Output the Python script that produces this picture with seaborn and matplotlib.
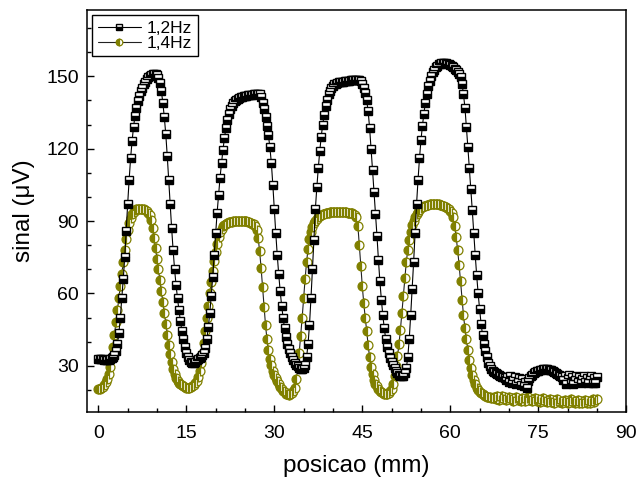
import numpy as np
import pandas as pd
import seaborn as sns
import matplotlib.pyplot as plt

# sampling step of the scan (mm)
passo = 0.25

# 1,2 Hz signal (uV), one value every 0.25 mm from 0 to 85 mm
sinal_12 = [
    33.0, 33.0, 32.8, 32.7, 32.6, 32.5, 32.5, 32.6, 32.8, 33.2, 33.8, 34.6, 36.0, 39.0, 43.5, 50.0, 58.0, 66.0, 75.0, 86.0,
    97.0, 107.0, 116.0, 123.0, 129.0, 133.5, 137.0, 139.8, 142.0, 143.8, 145.3, 146.6, 147.8, 148.8, 149.6, 150.2, 150.6, 150.8, 150.9, 150.8,
    150.4, 149.4, 147.2, 143.8, 139.0, 133.0, 126.0, 117.0, 107.0, 97.0, 87.0, 78.0, 70.0, 63.5, 58.0, 53.0, 48.5, 44.5, 41.0, 38.0,
    35.5, 33.6, 32.4, 31.7, 31.4, 31.4, 31.8, 32.3, 32.8, 33.2, 33.7, 34.4, 35.5, 37.5, 41.0, 46.0, 52.0, 59.0, 67.0, 76.0,
    85.0, 93.5, 101.0, 108.0, 114.0, 119.5, 124.5, 128.5, 131.8, 134.3, 136.3, 137.7, 138.8, 139.6, 140.2, 140.6, 141.0, 141.3, 141.5, 141.7,
    141.9, 142.0, 142.1, 142.2, 142.3, 142.4, 142.5, 142.6, 142.7, 142.8, 142.7, 141.5, 139.0, 136.3, 133.0, 129.5, 125.5, 120.5, 114.0, 105.0,
    95.0, 85.0, 76.0, 68.0, 61.0, 55.0, 50.0, 45.5, 42.0, 39.2, 37.0, 35.2, 33.8, 32.5, 31.4, 30.5, 29.8, 29.2, 28.8, 28.8,
    29.3, 30.5, 33.5, 39.0, 47.0, 58.0, 70.0, 82.0, 95.0, 104.0, 112.0, 119.0, 125.0, 130.0, 134.0, 137.5, 140.3, 142.5, 144.0, 145.2,
    146.0, 146.6, 147.0, 147.3, 147.5, 147.6, 147.7, 147.8, 147.9, 148.0, 148.1, 148.2, 148.3, 148.4, 148.4, 148.5, 148.5, 148.5, 148.4, 148.0,
    147.0, 145.3, 143.0, 140.0, 135.5, 128.5, 120.0, 111.0, 102.0, 93.0, 84.0, 74.0, 65.0, 57.5, 51.0, 45.5, 41.0, 37.8, 35.3, 33.4,
    31.8, 30.4, 29.0, 27.8, 26.9, 26.2, 25.8, 25.7, 26.0, 27.0, 29.0, 33.5, 41.0, 51.0, 62.0, 73.0, 85.0, 97.0, 107.0, 116.0,
    123.5, 129.5, 134.5, 139.0, 142.8, 145.8, 148.2, 150.2, 151.7, 152.8, 153.7, 154.4, 154.9, 155.2, 155.4, 155.5, 155.5, 155.4, 155.2, 155.0,
    154.6, 154.2, 153.8, 153.2, 152.6, 151.8, 150.8, 149.6, 147.0, 142.5, 137.0, 129.0, 120.5, 112.0, 103.5, 94.5, 85.0, 76.0, 67.5, 60.0,
    53.5, 47.5, 42.8, 39.0, 36.0, 33.5, 31.3, 29.8, 28.8, 28.0, 27.5, 27.0, 26.7, 26.4, 26.0, 25.6, 25.3, 25.1, 24.2, 25.6,
    23.5, 25.8, 22.8, 24.0, 25.5, 22.6, 23.4, 24.8, 22.2, 24.6, 21.8, 23.2, 21.0, 23.8, 25.0, 25.8, 26.4, 26.9, 27.3, 27.7,
    28.0, 28.3, 28.5, 28.6, 28.7, 28.7, 28.6, 28.5, 28.3, 28.1, 27.8, 27.5, 27.2, 26.8, 26.4, 25.9, 25.4, 24.0, 26.0, 22.4,
    24.8, 26.2, 23.0, 25.4, 22.6, 24.2, 26.0, 23.4, 25.6, 22.8, 24.6, 26.0, 23.2, 25.0, 22.8, 24.4, 26.0, 23.0, 24.8, 22.8,
    25.6,
]

# 1,4 Hz signal (uV), same positions
sinal_14 = [
    20.3, 20.4, 20.7, 21.2, 22.0, 23.2, 24.5, 26.5, 29.5, 33.5, 38.0, 43.0, 48.0, 53.0, 58.0, 63.0, 68.0, 73.0, 78.0, 82.5,
    86.2, 89.2, 91.4, 92.9, 93.9, 94.5, 94.9, 95.1, 95.2, 95.2, 95.1, 94.9, 94.6, 94.1, 93.4, 92.4, 90.5, 87.0, 83.0, 78.8,
    74.4, 70.0, 65.5, 61.0, 56.5, 52.0, 47.5, 43.0, 38.8, 35.0, 31.5, 28.6, 26.5, 25.0, 23.9, 23.0, 22.4, 21.9, 21.5, 21.2,
    21.0, 20.9, 20.9, 21.1, 21.5, 22.0, 22.8, 23.8, 25.5, 27.8, 31.0, 35.0, 39.5, 44.5, 49.8, 55.0, 60.0, 64.8, 69.3, 73.5,
    77.3, 80.6, 83.3, 85.3, 86.8, 87.8, 88.5, 89.0, 89.3, 89.5, 89.7, 89.8, 89.9, 90.0, 90.1, 90.1, 90.2, 90.2, 90.2, 90.2,
    90.1, 90.0, 89.8, 89.6, 89.3, 89.0, 88.6, 88.0, 86.5, 83.0, 77.5, 70.5, 62.5, 54.5, 47.0, 41.0, 36.5, 33.0, 30.2, 28.0,
    26.3, 25.0, 23.8, 22.6, 21.4, 20.4, 19.6, 19.0, 18.5, 18.2, 18.1, 18.2, 18.6, 19.4, 21.0, 24.5, 29.5, 35.5, 42.5, 50.0,
    58.0, 66.0, 73.0, 78.5, 82.5, 85.5, 87.6, 89.1, 90.2, 91.0, 91.6, 92.1, 92.5, 92.8, 93.0, 93.2, 93.4, 93.5, 93.6, 93.7,
    93.7, 93.7, 93.8, 93.8, 93.8, 93.8, 93.7, 93.7, 93.6, 93.6, 93.5, 93.4, 93.3, 93.2, 93.0, 92.6, 91.8, 88.0, 80.0, 71.5,
    63.0, 56.0, 50.0, 44.5, 38.5, 33.5, 29.5, 26.5, 24.3, 22.7, 21.5, 20.5, 19.7, 19.0, 18.6, 18.3, 18.2, 18.3, 18.7, 19.4,
    20.5, 22.5, 26.0, 30.0, 34.0, 39.0, 45.0, 52.0, 59.0, 66.5, 73.0, 78.0, 82.3, 85.5, 88.2, 90.2, 91.7, 92.9, 93.9, 94.7,
    95.3, 95.8, 96.1, 96.4, 96.6, 96.8, 97.0, 97.1, 97.2, 97.2, 97.2, 97.1, 97.0, 96.8, 96.6, 96.4, 96.2, 95.9, 95.5, 95.0,
    94.3, 93.3, 91.5, 88.0, 83.5, 78.0, 72.0, 65.0, 57.5, 51.0, 45.5, 41.0, 36.5, 32.5, 29.0, 26.2, 24.0, 22.3, 21.0, 20.0,
    19.3, 18.8, 18.3, 17.9, 17.6, 17.3, 17.1, 17.0, 16.9, 16.6, 17.2, 16.2, 17.4, 16.0, 16.9, 17.5, 16.3, 17.0, 15.8, 16.6,
    17.3, 16.1, 16.8, 15.6, 16.5, 17.1, 15.9, 16.4, 15.4, 16.8, 16.0, 15.3, 16.6, 17.0, 15.8, 16.4, 15.5, 16.2, 16.9, 15.6,
    16.3, 15.2, 16.0, 16.7, 15.4, 15.9, 14.9, 15.7, 16.4, 15.2, 15.8, 14.8, 15.6, 16.2, 15.0, 15.5, 14.7, 15.4, 16.0, 15.1,
    14.6, 15.5, 16.1, 14.9, 15.3, 14.5, 15.6, 16.0, 14.8, 15.4, 14.6, 15.2, 15.9, 14.7, 15.3, 14.5, 15.5, 16.1, 15.0, 15.7,
    16.2,
]

posicao = np.arange(len(sinal_12)) * passo

df = pd.DataFrame({"posicao": posicao, "f12": sinal_12, "f14": sinal_14})

sns.set_theme(style="ticks")
plt.rcParams['font.family'] = ['Liberation Sans', 'DejaVu Sans']
plt.rcParams['text.color'] = 'black'
plt.rcParams['axes.labelcolor'] = 'black'

fig, ax = plt.subplots(figsize=(6.41, 4.83), dpi=100)
fig.subplots_adjust(left=0.136, right=0.977, bottom=0.147, top=0.979)

oliva = "#808000"

# 1,4 Hz first so the squares sit on top
sns.lineplot(data=df, x="posicao", y="f14", ax=ax, sort=False, estimator=None,
             label="1,4Hz", color="#222222", linewidth=0.8,
             marker="o", markersize=6.4, fillstyle="left",
             markerfacecolor=oliva, markerfacecoloralt="white",
             markeredgecolor=oliva, markeredgewidth=0.9)
sns.lineplot(data=df, x="posicao", y="f12", ax=ax, sort=False, estimator=None,
             label="1,2Hz", color="black", linewidth=0.8,
             marker="s", markersize=5.8, fillstyle="bottom",
             markerfacecolor="black", markerfacecoloralt="white",
             markeredgecolor="black", markeredgewidth=1.0)

ax.set_xlim(-1.9, 90)
ax.set_ylim(10.9, 177.4)
ax.set_xticks([0, 15, 30, 45, 60, 75, 90])
ax.set_xticks(np.arange(0, 91, 5), minor=True)
ax.set_yticks([30, 60, 90, 120, 150])
ax.set_yticks(np.arange(20, 177, 10), minor=True)

ax.tick_params(which="both", direction="in", width=1, labelsize=14,
               colors="black", labelcolor="black")
ax.tick_params(which="major", length=5)
ax.tick_params(which="minor", length=3)
ax.tick_params(axis="x", which="major", pad=9.5)
ax.tick_params(axis="y", which="major", pad=6)
for s in ax.spines.values():
    s.set_linewidth(1.1)
    s.set_color("black")

ax.set_xlabel("posicao (mm)", fontsize=17.5, labelpad=9, color="black")
ax.set_ylabel("sinal (μV)", fontsize=17.5, labelpad=8, color="black")

handles, labels = ax.get_legend_handles_labels()
leg = ax.legend(handles[::-1], labels[::-1], loc="upper left", fontsize=12.5,
                frameon=True, fancybox=False, framealpha=1, edgecolor="black",
                borderaxespad=0.3, borderpad=0.3, handlelength=2.5,
                handletextpad=0.35, labelspacing=0.02, markerscale=0.75,
                labelcolor="black")
leg.get_frame().set_linewidth(1.0)

plt.savefig("out.png", dpi=100)
plt.close()
